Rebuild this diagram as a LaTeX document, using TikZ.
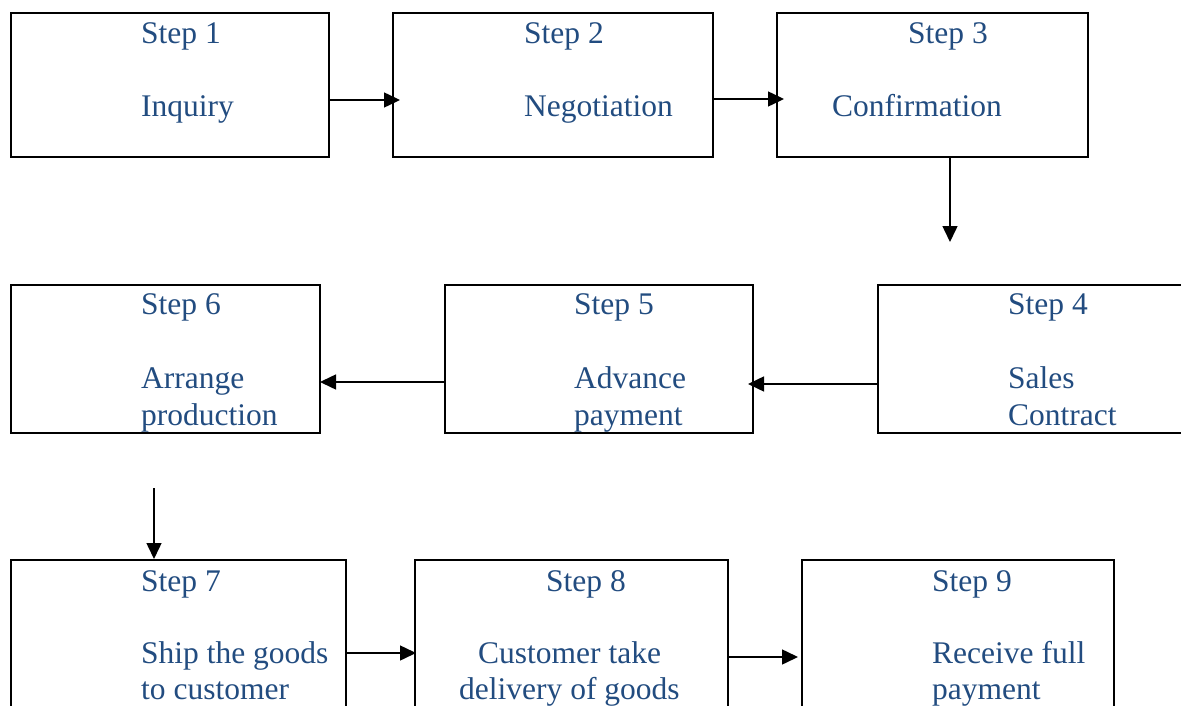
\documentclass[tikz,border=0pt]{standalone}
\usepackage{fontspec}
\setmainfont{Liberation Serif}
\usetikzlibrary{arrows.meta}
\definecolor{txtblue}{HTML}{224C80}
\begin{document}
\begin{tikzpicture}[x=1pt,y=-1pt,
  box/.style={draw=black,line width=2pt,rectangle,inner sep=0pt},
  lbl/.style={anchor=base west,inner sep=0pt,text=txtblue,yshift=-1.5pt,font=\fontsize{31.5}{36.5}\selectfont},
  arr/.style={draw=black,line width=1.5pt,-{Triangle[length=16pt,width=15pt]}}]
\useasboundingbox (0,0) rectangle (1181,706);
% boxes
\node[box,minimum width=318pt,minimum height=144pt] (b1) at (170,85) {};
\node[box,minimum width=320pt,minimum height=144pt] (b2) at (553,85) {};
\node[box,minimum width=311pt,minimum height=144pt] (b3) at (932.5,85) {};
\node[box,minimum width=310pt,minimum height=148pt] (b4) at (1033,359) {};
\node[box,minimum width=308pt,minimum height=148pt] (b5) at (599,359) {};
\node[box,minimum width=309pt,minimum height=148pt] (b6) at (165.5,359) {};
\node[box,minimum width=335pt,minimum height=160pt] (b7) at (178.5,640) {};
\node[box,minimum width=313pt,minimum height=160pt] (b8) at (571.5,640) {};
\node[box,minimum width=312pt,minimum height=160pt] (b9) at (958,640) {};
% texts
\node[lbl] (t1a) at (141,42) {Step 1};
\node[lbl] (t1b) at (141,115) {Inquiry};
\node[lbl] (t2a) at (524,42) {Step 2};
\node[lbl] (t2b) at (524,115) {Negotiation};
\node[lbl] (t3a) at (908,42) {Step 3};
\node[lbl] (t3b) at (832,115) {Confirmation};
\node[lbl] (t4a) at (1008,313) {Step 4};
\node[lbl] (t4b) at (1008,387) {Sales};
\node[lbl] (t4c) at (1008,424) {Contract};
\node[lbl] (t5a) at (574,313) {Step 5};
\node[lbl] (t5b) at (574,387) {Advance};
\node[lbl] (t5c) at (574,424) {payment};
\node[lbl] (t6a) at (141,313) {Step 6};
\node[lbl] (t6b) at (141,387) {Arrange};
\node[lbl] (t6c) at (141,424) {production};
\node[lbl] (t7a) at (141,590) {Step 7};
\node[lbl] (t7b) at (141,662) {Ship the goods};
\node[lbl] (t7c) at (141,698) {to customer};
\node[lbl] (t8a) at (546,590) {Step 8};
\node[lbl] (t8b) at (478,662) {Customer take};
\node[lbl] (t8c) at (459,698) {delivery of goods};
\node[lbl] (t9a) at (932,590) {Step 9};
\node[lbl] (t9b) at (932,662) {Receive full};
\node[lbl] (t9c) at (932,698) {payment};
% arrow end points
\coordinate (a12) at (400,100);
\coordinate (a23) at (784,99);
\coordinate (a34) at (950,242);
\coordinate (a45) at (748,384);
\coordinate (a56) at (320,382);
\coordinate (a67s) at (154,488);
\coordinate (a67) at (154,559);
\coordinate (a78) at (416,653);
\coordinate (a89) at (798,657);
% connectors
\draw[arr] (b1.east |- a12) -- (a12);
\draw[arr] (b2.east |- a23) -- (a23);
\draw[arr] (b3.south -| a34) -- (a34);
\draw[arr] (b4.west |- a45) -- (a45);
\draw[arr] (b5.west |- a56) -- (a56);
\draw[arr] (a67s) -- (a67);
\draw[arr] ([xshift=-2pt]b7.east |- a78) -- (a78);
\draw[arr] ([xshift=-2pt]b8.east |- a89) -- (a89);
\end{tikzpicture}
\end{document}
